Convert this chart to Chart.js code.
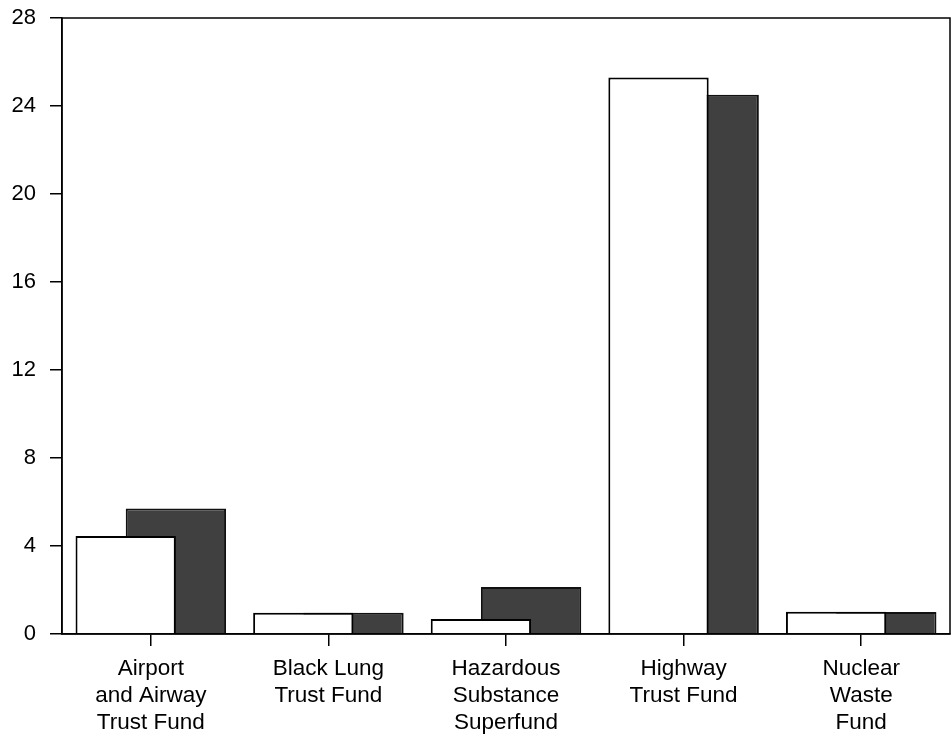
<!DOCTYPE html>
<html>
<head>
<meta charset="utf-8">
<script src="https://cdn.jsdelivr.net/npm/chart.js@4"></script>
<style>
  html, body { margin: 0; padding: 0; background: #fff; }
  #wrap { width: 952px; height: 736px; }
</style>
</head>
<body>
<div id="wrap"><canvas id="c" width="952" height="736"></canvas></div>
<script>
const categories = [
  ['Airport', 'and Airway', 'Trust Fund'],
  ['Black Lung', 'Trust Fund'],
  ['Hazardous', 'Substance', 'Superfund'],
  ['Highway', 'Trust Fund'],
  ['Nuclear', 'Waste', 'Fund']
];
const seriesA = [4.45, 0.97, 0.68, 25.3, 1.01];
const seriesB = [5.71, 0.97, 2.14, 24.51, 1.0];
const yTicks = [0, 4, 8, 12, 16, 20, 24, 28];

const FONT = 'Liberation Sans, Arial, Helvetica, sans-serif';

const boxPlugin = {
  id: 'box',
  afterDraw(chart) {
    const a = chart.chartArea;
    const ctx = chart.ctx;
    ctx.save();
    ctx.strokeStyle = '#000';
    ctx.lineWidth = 1.5;
    ctx.strokeRect(a.left, a.top, a.right - a.left, a.bottom - a.top);
    ctx.restore();
  }
};

new Chart(document.getElementById('c'), {
  type: 'bar',
  data: {
    labels: categories,
    datasets: [
      {
        data: seriesA,
        backgroundColor: '#ffffff',
        borderColor: '#000000',
        borderWidth: 2,
        borderSkipped: 'start',
        categoryPercentage: 0.565,
        barPercentage: 2.0,
        order: 0
      },
      {
        data: seriesB,
        backgroundColor: '#404040',
        borderColor: '#111111',
        borderWidth: 2,
        borderSkipped: 'start',
        categoryPercentage: 0.565,
        barPercentage: 2.0,
        order: 1
      }
    ]
  },
  options: {
    responsive: false,
    animation: false,
    devicePixelRatio: 1,
    layout: { padding: { left: 0, right: 2, top: 18, bottom: 0 } },
    plugins: {
      legend: { display: false },
      tooltip: { enabled: false },
      title: { display: false }
    },
    scales: {
      x: {
        offset: true,
        grid: {
          display: true,
          offset: false,
          drawOnChartArea: false,
          drawTicks: true,
          tickLength: 12,
          color: '#000',
          lineWidth: 1.5
        },
        border: { display: true, color: '#000', width: 1.5 },
        ticks: {
          color: '#000',
          font: { family: FONT, size: 22.5, lineHeight: 1.2 },
          padding: 9,
          maxRotation: 0,
          autoSkip: false
        },
        afterFit(scale) { scale.height = 102; scale.paddingLeft = 0; scale.paddingRight = 0; }
      },
      y: {
        min: 0,
        max: 28,
        afterBuildTicks(scale) { scale.ticks = yTicks.map(v => ({ value: v })); },
        grid: {
          display: true,
          drawOnChartArea: false,
          drawTicks: true,
          tickLength: 12,
          color: '#000',
          lineWidth: 1.5
        },
        border: { display: true, color: '#000', width: 1.5 },
        ticks: {
          color: '#000',
          font: { family: FONT, size: 22 },
          padding: 14
        },
        afterFit(scale) { scale.width = 62; scale.paddingTop = 0; scale.paddingBottom = 0; }
      }
    }
  },
  plugins: [boxPlugin]
});
</script>
</body>
</html>
